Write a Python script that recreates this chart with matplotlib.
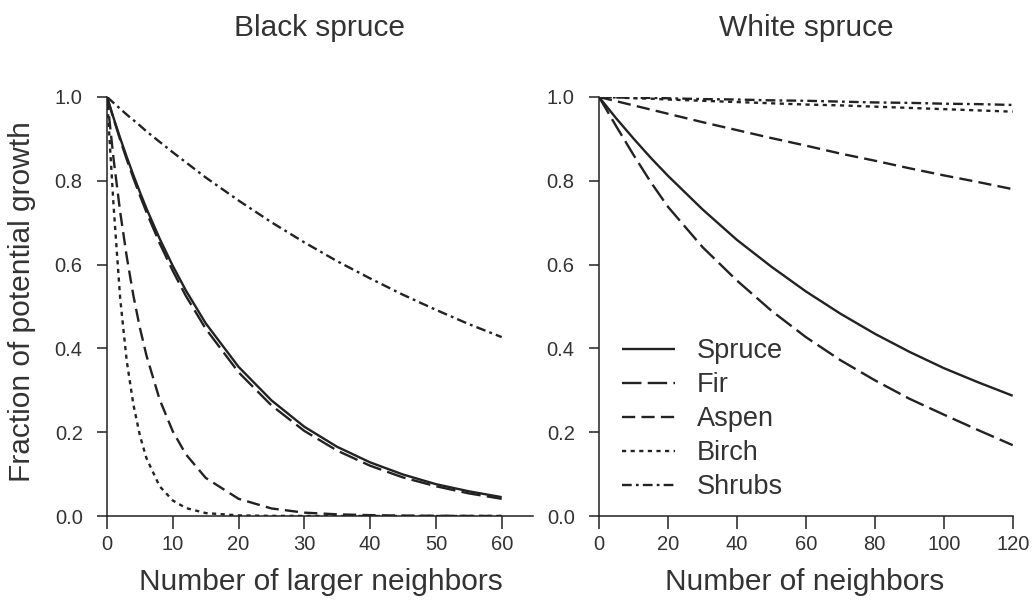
import matplotlib
matplotlib.use("Agg")
import matplotlib.pyplot as plt

plt.rcParams['font.family'] = ['Liberation Sans', 'DejaVu Sans']
plt.rcParams['lines.scale_dashes'] = False

# ---------------- data ----------------
series_names = ["Spruce", "Fir", "Aspen", "Birch", "Shrubs"]

# Black spruce panel (x = number of larger neighbors)
black_x = [0, 1, 2, 3, 4, 5, 6, 8, 10, 12, 15, 20, 25, 30, 35, 40, 45, 50, 55, 60]
black_spruce = [1.0, 0.95, 0.902, 0.857, 0.814, 0.773, 0.734, 0.662, 0.597, 0.538, 0.46,
                0.356, 0.276, 0.213, 0.165, 0.128, 0.099, 0.076, 0.059, 0.045]
black_fir = [1.0, 0.948, 0.898, 0.851, 0.807, 0.765, 0.725, 0.651, 0.585, 0.525, 0.447,
             0.343, 0.264, 0.203, 0.156, 0.120, 0.092, 0.071, 0.054, 0.041]
black_aspen = [1.0, 0.852, 0.726, 0.619, 0.527, 0.449, 0.383, 0.278, 0.202, 0.147, 0.091,
               0.041, 0.018, 0.008, 0.004, 0.002, 0.001, 0.0005, 0.0002, 0.0001]
black_birch = [1.0, 0.74, 0.52, 0.37, 0.267, 0.192, 0.138, 0.071, 0.037, 0.019, 0.007,
               0.0014, 0.0003, 0.0001, 0.0, 0.0, 0.0, 0.0, 0.0, 0.0]
black_shrubs = [1.0, 0.986, 0.972, 0.958, 0.945, 0.932, 0.918, 0.893, 0.868, 0.844, 0.808,
                0.753, 0.701, 0.653, 0.608, 0.567, 0.528, 0.492, 0.458, 0.427]

# White spruce panel (x = number of neighbors)
white_x = [0, 5, 10, 15, 20, 30, 40, 50, 60, 70, 80, 90, 100, 110, 120]
white_spruce = [1.0, 0.949, 0.901, 0.855, 0.812, 0.732, 0.659, 0.595, 0.536, 0.483,
                0.435, 0.392, 0.353, 0.319, 0.287]
white_fir = [1.0, 0.93, 0.862, 0.797, 0.738, 0.642, 0.562, 0.49, 0.427, 0.372,
             0.324, 0.28, 0.242, 0.205, 0.169]
white_aspen = [1.0, 0.99, 0.98, 0.97, 0.96, 0.94, 0.921, 0.902, 0.884, 0.865,
               0.848, 0.83, 0.813, 0.797, 0.78]
white_birch = [1.0, 0.999, 0.997, 0.996, 0.994, 0.991, 0.988, 0.985, 0.982, 0.98,
               0.977, 0.974, 0.971, 0.968, 0.965]
white_shrubs = [1.0, 0.999, 0.998, 0.998, 0.997, 0.995, 0.994, 0.992, 0.991, 0.989,
                0.987, 0.986, 0.984, 0.983, 0.981]

panel_titles = ["Black spruce", "White spruce"]
x_labels = ["Number of larger neighbors", "Number of neighbors"]
y_label = "Fraction of potential growth"
black_xticks = [0, 10, 20, 30, 40, 50, 60]
white_xticks = [0, 20, 40, 60, 80, 100, 120]
yticks = [0.0, 0.2, 0.4, 0.6, 0.8, 1.0]

# ---------------- styles ----------------
LINE_C = '#222222'
TEXT_C = '#333333'
styles = {
    "Spruce": dict(dashes=None),
    "Fir": dict(dashes=(14, 4.5)),
    "Aspen": dict(dashes=(9.5, 4.5)),
    "Birch": dict(dashes=(3, 3.2)),
    "Shrubs": dict(dashes=(7, 3, 2, 3)),
}

W, H = 1036, 607
fig = plt.figure(figsize=(W / 100, H / 100), dpi=100)

def px_axes(x0, x1, ytop, ybot):
    return [x0 / W, (H - ybot) / H, (x1 - x0) / W, (ybot - ytop) / H]

axL = fig.add_axes(px_axes(107, 533, 97, 516))
axR = fig.add_axes(px_axes(599, 1012.7, 97, 516))

def draw(ax, x, ys):
    lines = []
    for name, y in zip(series_names, ys):
        st = styles[name]
        ln, = ax.plot(x, y, color=LINE_C, lw=1.7, label=name, solid_capstyle='butt',
                      dash_capstyle='butt')
        if st['dashes'] is not None:
            ln.set_dashes(st['dashes'])
        lines.append(ln)
    return lines

draw(axL, black_x, [black_spruce, black_fir, black_aspen, black_birch, black_shrubs])
lines = draw(axR, white_x, [white_spruce, white_fir, white_aspen, white_birch, white_shrubs])

axL.set_xlim(0, 64.76)
axR.set_xlim(0, 120)
axL.set_xticks(black_xticks)
axR.set_xticks(white_xticks)

for ax in (axL, axR):
    ax.set_ylim(0, 1.0)
    ax.set_yticks(yticks)
    ax.set_yticklabels([f"{v:.1f}" for v in yticks])
    for s in ('top', 'right'):
        ax.spines[s].set_visible(False)
    for s in ('left', 'bottom'):
        ax.spines[s].set_linewidth(1.1)
        ax.spines[s].set_color(LINE_C)
    ax.tick_params(axis='x', direction='out', length=9, width=1.1, colors=LINE_C,
                   labelcolor=TEXT_C, labelsize=14.5, pad=5)
    ax.tick_params(axis='y', direction='out', length=7.5, width=1.1, colors=LINE_C,
                   labelcolor=TEXT_C, labelsize=14.5, pad=10)
    ax.patch.set_visible(False)

# titles and axis labels
fig.text(320 / W, (H - 36) / H, panel_titles[0], ha='center', va='baseline',
         fontsize=21.5, color=TEXT_C)
fig.text(806 / W, (H - 36) / H, panel_titles[1], ha='center', va='baseline',
         fontsize=21.5, color=TEXT_C)
fig.text(321 / W, (H - 590) / H, x_labels[0], ha='center', va='baseline',
         fontsize=21.5, color=TEXT_C)
fig.text(805 / W, (H - 590) / H, x_labels[1], ha='center', va='baseline',
         fontsize=21.5, color=TEXT_C)
fig.text(22 / W, (H - 302) / H, y_label, ha='center', va='center', rotation=90,
         fontsize=21.5, color=TEXT_C)

leg = axR.legend(handles=lines, loc='upper left',
                 bbox_to_anchor=((622 - 599) / 413.7, (516 - 338) / 419),
                 frameon=False, fontsize=19.5, handlelength=1.96, handletextpad=0.8,
                 labelspacing=0.30, borderpad=0, borderaxespad=0)
for t in leg.get_texts():
    t.set_color(TEXT_C)

fig.savefig("out.png", dpi=100)
